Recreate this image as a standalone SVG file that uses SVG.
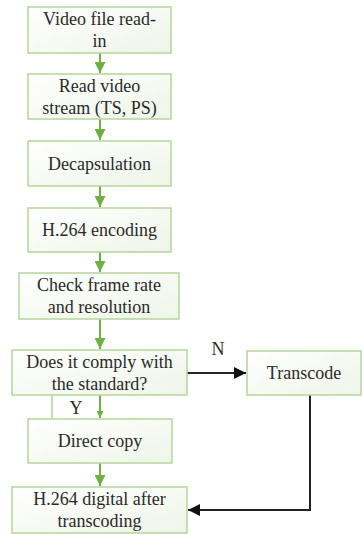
<svg xmlns="http://www.w3.org/2000/svg" width="362" height="534" viewBox="0 0 362 534">
  <style>
    .box { fill: url(#boxFill); stroke: #b4d69a; stroke-width: 1.5; }
    .lbl { font-family: "Liberation Serif", "Times New Roman", serif; font-size: 18px; fill: #2a2a2a; text-anchor: middle; }
    .g { stroke: #6fb043; stroke-width: 2; fill: none; }
    .k { stroke: #222; stroke-width: 2; fill: none; }
    .gl { stroke: #b4d69a; stroke-width: 1.5; fill: none; }
  </style>
  <defs>
    <linearGradient id="boxFill" x1="0" y1="0" x2="1" y2="1">
      <stop offset="0" stop-color="#ffffff"/>
      <stop offset="1" stop-color="#eef5e8"/>
    </linearGradient>
    <marker id="ga" viewBox="0 0 10 10" refX="10" refY="5" markerWidth="5.5" markerHeight="5.5" orient="auto">
      <path d="M0,0 L10,5 L0,10 z" fill="#6fb043"/>
    </marker>
    <marker id="gs" viewBox="0 0 10 10" refX="10" refY="5" markerWidth="3.5" markerHeight="3.5" orient="auto">
      <path d="M0,0 L10,5 L0,10 z" fill="#6fb043"/>
    </marker>
    <marker id="ka" viewBox="0 0 10 10" refX="10" refY="5" markerWidth="6" markerHeight="6" orient="auto">
      <path d="M0,0 L10,5 L0,10 z" fill="#111"/>
    </marker>
  </defs>

  <g id="connectors">
    <line class="g" x1="100" y1="53" x2="100" y2="73" marker-end="url(#ga)"/>
    <line class="g" x1="100" y1="119" x2="100" y2="140" marker-end="url(#ga)"/>
    <line class="g" x1="100" y1="186" x2="100" y2="207" marker-end="url(#ga)"/>
    <line class="g" x1="100" y1="252" x2="100" y2="272" marker-end="url(#ga)"/>
    <line class="g" x1="100" y1="319" x2="100" y2="349" marker-end="url(#ga)"/>
    <line class="gl" x1="52" y1="395" x2="52" y2="419"/>
    <line class="g" x1="100" y1="395" x2="100" y2="418" marker-end="url(#gs)"/>
    <line class="g" x1="100" y1="463" x2="100" y2="486" marker-end="url(#ga)"/>
    <line class="k" x1="187" y1="373" x2="246" y2="373" marker-end="url(#ka)"/>
    <polyline class="k" points="310,395 310,510 188,510" marker-end="url(#ka)"/>
    <text class="lbl" x="218" y="355" font-size="16">N</text>
    <text class="lbl" x="76" y="414" font-size="16">Y</text>
  </g>

  <g id="n1">
    <rect class="box" x="28" y="7" width="143" height="46"/>
    <text class="lbl" x="99.5" y="25">Video file read-</text>
    <text class="lbl" x="99.5" y="47">in</text>
  </g>
  <g id="n2">
    <rect class="box" x="28" y="74" width="143" height="45"/>
    <text class="lbl" x="99.5" y="92">Read video</text>
    <text class="lbl" x="99.5" y="114">stream (TS, PS)</text>
  </g>
  <g id="n3">
    <rect class="box" x="28" y="141" width="143" height="45"/>
    <text class="lbl" x="99.5" y="170">Decapsulation</text>
  </g>
  <g id="n4">
    <rect class="box" x="28" y="208" width="143" height="44"/>
    <text class="lbl" x="99.5" y="236">H.264 encoding</text>
  </g>
  <g id="n5">
    <rect class="box" x="19" y="273" width="160" height="46"/>
    <text class="lbl" x="99" y="291">Check frame rate</text>
    <text class="lbl" x="99" y="313">and resolution</text>
  </g>
  <g id="n6">
    <rect class="box" x="12" y="350" width="175" height="45"/>
    <text class="lbl" x="99.5" y="368">Does it comply with</text>
    <text class="lbl" x="99.5" y="390">the standard?</text>
  </g>
  <g id="n7">
    <rect class="box" x="247" y="351" width="114" height="44"/>
    <text class="lbl" x="304" y="379">Transcode</text>
  </g>
  <g id="n8">
    <rect class="box" x="28" y="419" width="144" height="44"/>
    <text class="lbl" x="100" y="447">Direct copy</text>
  </g>
  <g id="n9">
    <rect class="box" x="12" y="487" width="175" height="46"/>
    <text class="lbl" x="99.5" y="505">H.264 digital after</text>
    <text class="lbl" x="99.5" y="527">transcoding</text>
  </g>
</svg>
